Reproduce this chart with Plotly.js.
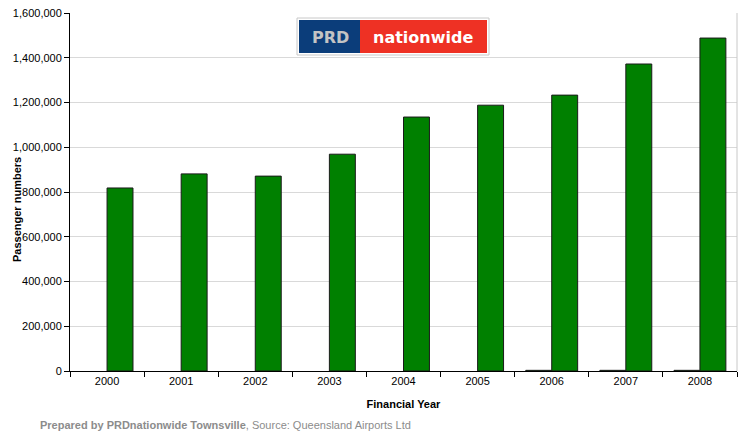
<!DOCTYPE html>
<html>
<head>
<meta charset="utf-8">
<script src="https://cdn.plot.ly/plotly-3.0.1.min.js"></script>
<style>html,body{margin:0;padding:0;background:#fff;}#chart{width:742px;height:434px;}</style>
</head>
<body>
<div id="chart"></div>
<script>
const years = ['2000','2001','2002','2003','2004','2005','2006','2007','2008'];
const smallSeries = [null, null, null, null, null, null, 3000, 3000, 3000];
const passengers = [818000, 881000, 871000, 969000, 1135000, 1188000, 1233000, 1372000, 1488000];
const yTicks = [0, 200000, 400000, 600000, 800000, 1000000, 1200000, 1400000, 1600000];

const font = 'Liberation Sans, Arial, sans-serif';
const px = (x) => (x - 70) / 667;
const py = (y) => (371 - y) / 358;
const traces = [
  {type:'bar', x: years, y: smallSeries, name:'Other', marker:{color:'#008000', line:{color:'#1a1a1a', width:1}}, hoverinfo:'skip'},
  {type:'bar', x: years, y: passengers, name:'Passengers', marker:{color:'#008000', line:{color:'#1a1a1a', width:1}}}
];
const layout = {
  width:742, height:434,
  margin:{l:70, r:5, t:13, b:63},
  paper_bgcolor:'#fff', plot_bgcolor:'#fff',
  showlegend:false,
  barmode:'group', bargap:0.3, bargroupgap:0,
  font:{family:font, size:11, color:'#000'},
  xaxis:{
    type:'category', tickson:'boundaries', ticks:'outside', ticklen:5, tickcolor:'#000',
    showline:true, linecolor:'#000', linewidth:1, showgrid:false, zeroline:false,
    tickfont:{family:font, size:11, color:'#000'},
    title:{text:'<b>Financial Year</b>', font:{family:font, size:11, color:'#000'}, standoff:14}
  },
  yaxis:{
    range:[0,1600000], tickvals: yTicks, tickformat:',d', ticks:'outside', ticklen:5, tickcolor:'#000',
    showline:true, linecolor:'#000', linewidth:1, showgrid:true, gridcolor:'#d9d9d9', gridwidth:1, zeroline:false,
    tickfont:{family:font, size:11, color:'#000'}
  },
  shapes:[
    {type:'line', xref:'paper', yref:'paper', x0:1, x1:1, y0:0, y1:1, line:{color:'#c8c8c8', width:1}},
    {type:'rect', xref:'paper', yref:'paper', x0:px(297), x1:px(489), y0:py(55), y1:py(18), line:{color:'#c8c8c8', width:1}, fillcolor:'#fff'},
    {type:'rect', xref:'paper', yref:'paper', x0:px(299), x1:px(360), y0:py(53), y1:py(20), line:{width:0}, fillcolor:'#0b3d7a'},
    {type:'rect', xref:'paper', yref:'paper', x0:px(360), x1:px(487), y0:py(53), y1:py(20), line:{width:0}, fillcolor:'#ee3124'}
  ],
  annotations:[
    {xref:'paper', yref:'paper', x:px(330), y:py(37), xanchor:'center', yanchor:'middle', text:'<b>PRD</b>', showarrow:false, font:{family:'DejaVu Sans, sans-serif', size:16, color:'#c4c4c4'}},
    {xref:'paper', yref:'paper', x:px(423), y:py(37), xanchor:'center', yanchor:'middle', text:'<b>nationwide</b>', showarrow:false, font:{family:'DejaVu Sans, sans-serif', size:16, color:'#fff'}},
    {xref:'paper', yref:'paper', x:px(17), y:py(210), xanchor:'center', yanchor:'middle', textangle:-90, text:'<b>Passenger numbers</b>', showarrow:false, font:{family:font, size:11, color:'#000'}},
    {xref:'paper', yref:'paper', x:px(38), xanchor:'left', y:py(425), yanchor:'middle', showarrow:false,
     text:'<b>Prepared by PRDnationwide Townsville</b>, Source: Queensland Airports Ltd', font:{family:font, size:11, color:'#8c8c8c'}}
  ]
};
Plotly.newPlot('chart', traces, layout, {displayModeBar:false, staticPlot:true});
</script>
</body>
</html>
